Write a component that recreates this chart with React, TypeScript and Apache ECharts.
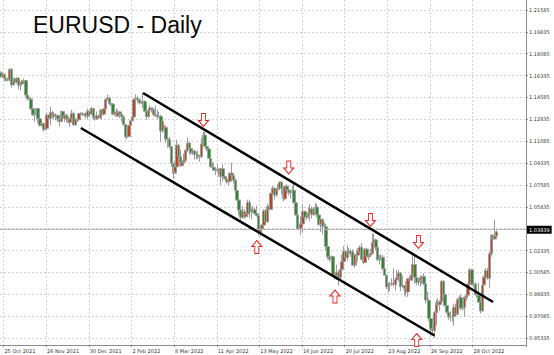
import React, { useEffect, useRef } from "react";
import * as echarts from "echarts";

// OHLC rows: [open, close, low, high] in 1/10000 units
const oct2021 = [
  [11655, 11623, 11618, 11668], [11623, 11644, 11620, 11665], [11644, 11608, 11590, 11650],
  [11608, 11597, 11586, 11625], [11597, 11604, 11585, 11620], [11604, 11683, 11590, 11692],
  [11683, 11558, 11535, 11692],
];
const nov2021 = [
  [11558, 11607, 11555, 11616], [11607, 11580, 11573, 11614], [11580, 11614, 11570, 11617],
  [11614, 11556, 11524, 11618], [11556, 11567, 11513, 11576], [11567, 11587, 11557, 11600],
  [11587, 11594, 11564, 11610], [11594, 11478, 11463, 11600], [11478, 11446, 11434, 11483],
  [11446, 11445, 11432, 11464], [11445, 11368, 11358, 11464], [11368, 11320, 11310, 11386],
  [11320, 11319, 11264, 11330], [11319, 11370, 11313, 11375], [11370, 11288, 11250, 11374],
  [11288, 11235, 11226, 11296], [11235, 11250, 11226, 11265], [11250, 11200, 11186, 11258],
  [11200, 11211, 11197, 11229], [11211, 11318, 11205, 11336], [11318, 11291, 11258, 11320],
  [11291, 11338, 11236, 11383],
];
const dec2021 = [
  [11338, 11321, 11297, 11353], [11321, 11305, 11287, 11342], [11305, 11316, 11276, 11333],
  [11316, 11286, 11261, 11318], [11286, 11266, 11228, 11291], [11266, 11345, 11262, 11354],
  [11345, 11291, 11276, 11352], [11291, 11317, 11262, 11325], [11317, 11284, 11260, 11329],
  [11284, 11259, 11251, 11308], [11259, 11289, 11222, 11296], [11289, 11330, 11275, 11360],
  [11330, 11238, 11236, 11347], [11238, 11281, 11235, 11297], [11281, 11281, 11262, 11305],
  [11281, 11329, 11269, 11336], [11329, 11330, 11302, 11343], [11330, 11319, 11310, 11340],
  [11319, 11327, 11305, 11332], [11327, 11310, 11293, 11339], [11310, 11348, 11282, 11370],
  [11348, 11325, 11299, 11356], [11325, 11370, 11318, 11385],
];
const jan2022 = [
  [11370, 11296, 11284, 11375], [11296, 11287, 11273, 11322], [11287, 11312, 11281, 11346],
  [11312, 11296, 11285, 11318], [11296, 11359, 11290, 11366], [11359, 11325, 11285, 11364],
  [11325, 11366, 11313, 11374], [11366, 11442, 11357, 11449], [11442, 11455, 11432, 11482],
  [11455, 11411, 11398, 11463], [11411, 11406, 11389, 11421], [11406, 11325, 11316, 11415],
  [11325, 11343, 11314, 11360], [11343, 11311, 11302, 11369], [11311, 11343, 11301, 11363],
  [11343, 11325, 11293, 11348], [11325, 11304, 11265, 11329], [11304, 11242, 11235, 11319],
  [11242, 11142, 11136, 11245], [11142, 11146, 11121, 11164], [11146, 11235, 11142, 11239],
];
const feb2022 = [
  [11235, 11272, 11214, 11280], [11272, 11303, 11268, 11307], [11303, 11442, 11271, 11450],
  [11442, 11452, 11420, 11484], [11452, 11440, 11415, 11469], [11440, 11414, 11402, 11448],
  [11414, 11423, 11406, 11431], [11423, 11426, 11375, 11495], [11426, 11349, 11340, 11436],
  [11349, 11305, 11280, 11357], [11305, 11357, 11293, 11372], [11357, 11374, 11346, 11395],
  [11374, 11360, 11338, 11380], [11360, 11321, 11311, 11369], [11321, 11309, 11301, 11395],
  [11309, 11307, 11288, 11362], [11307, 11308, 11291, 11342], [11308, 11191, 11106, 11320],
  [11191, 11268, 11176, 11274], [11190, 11219, 11122, 11239],
];
const mar2022 = [
  [11219, 11127, 11094, 11234], [11127, 11121, 11057, 11138], [11121, 11064, 11050, 11142],
  [11064, 10932, 10902, 11071], [10932, 10853, 10805, 10933], [10853, 10903, 10870, 10945],
  [10903, 11077, 10900, 11121], [11077, 10985, 10975, 11090], [10985, 10912, 10902, 11042],
  [10912, 10941, 10911, 10982], [10941, 10955, 10937, 11009], [10955, 11037, 10948, 11043],
  [11037, 11094, 11018, 11137], [11094, 11051, 11007, 11097], [11051, 11015, 10998, 11070],
  [11015, 11031, 10998, 11041], [11031, 11005, 10961, 11039], [11005, 10998, 10963, 11025],
  [10998, 10984, 10964, 11034], [10984, 10985, 10944, 10997], [10985, 11087, 10973, 11137],
  [11087, 11158, 11075, 11185], [11158, 11067, 11061, 11183],
];
const apr2022 = [
  [11067, 11047, 11029, 11077], [11047, 10972, 10969, 11053], [10972, 10903, 10900, 10995],
  [10903, 10899, 10897, 10939], [10899, 10876, 10870, 10937], [10876, 10877, 10837, 10893],
  [10877, 10886, 10858, 10922], [10886, 10829, 10822, 10892], [10829, 10888, 10759, 10895],
  [10888, 10826, 10783, 10924], [10826, 10808, 10801, 10838], [10808, 10782, 10769, 10820],
  [10782, 10788, 10756, 10810], [10788, 10853, 10777, 10860], [10853, 10834, 10828, 10936],
  [10834, 10796, 10770, 10849], [10796, 10714, 10698, 10809], [10714, 10638, 10632, 10720],
  [10638, 10558, 10515, 10650], [10558, 10498, 10470, 10580], [10498, 10545, 10490, 10592],
];
const may2022 = [
  [10545, 10506, 10490, 10565], [10506, 10526, 10492, 10533], [10526, 10618, 10505, 10641],
  [10618, 10541, 10494, 10642], [10541, 10549, 10483, 10580], [10549, 10560, 10539, 10593],
  [10560, 10529, 10519, 10576], [10529, 10513, 10505, 10594], [10513, 10380, 10354, 10514],
  [10380, 10409, 10349, 10424], [10409, 10437, 10391, 10445], [10437, 10551, 10423, 10564],
  [10551, 10462, 10458, 10566], [10462, 10585, 10460, 10608], [10585, 10563, 10532, 10595],
  [10563, 10691, 10557, 10697], [10691, 10733, 10676, 10749], [10733, 10678, 10642, 10737],
  [10678, 10725, 10661, 10731], [10725, 10733, 10697, 10765], [10733, 10781, 10717, 10787],
  [10781, 10733, 10682, 10786],
];
const jun2022 = [
  [10733, 10648, 10628, 10739], [10648, 10749, 10637, 10752], [10749, 10719, 10693, 10764],
  [10719, 10696, 10675, 10737], [10696, 10705, 10653, 10710], [10705, 10716, 10673, 10749],
  [10716, 10616, 10612, 10774], [10616, 10518, 10514, 10635], [10518, 10408, 10398, 10520],
  [10408, 10414, 10397, 10450], [10414, 10446, 10358, 10506], [10446, 10547, 10381, 10601],
  [10547, 10498, 10448, 10552], [10498, 10512, 10478, 10546], [10512, 10534, 10490, 10582],
  [10534, 10567, 10466, 10605], [10567, 10523, 10490, 10588], [10523, 10554, 10509, 10573],
  [10554, 10582, 10549, 10615], [10582, 10518, 10500, 10606], [10518, 10443, 10431, 10535],
  [10443, 10484, 10383, 10486],
];
const jul2022 = [
  [10484, 10427, 10365, 10486], [10427, 10424, 10410, 10462], [10424, 10266, 10236, 10447],
  [10266, 10183, 10162, 10275], [10183, 10162, 10144, 10209], [10162, 10185, 10072, 10196],
  [10185, 10039, 10037, 10186], [10039, 10036, 10000, 10056], [10036, 10061, 9998, 10122],
  [10061, 10019, 9952, 10076], [10019, 10083, 10006, 10097], [10083, 10144, 10082, 10200],
  [10144, 10226, 10139, 10269], [10226, 10177, 10155, 10232], [10177, 10228, 10153, 10277],
  [10228, 10210, 10177, 10255], [10210, 10225, 10184, 10246], [10225, 10116, 10111, 10244],
  [10116, 10199, 10095, 10209], [10199, 10197, 10113, 10235], [10197, 10221, 10146, 10254],
];
const aug2022 = [
  [10221, 10259, 10199, 10274], [10259, 10163, 10161, 10294], [10163, 10138, 10123, 10200],
  [10138, 10245, 10137, 10254], [10245, 10183, 10141, 10254], [10183, 10196, 10158, 10222],
  [10196, 10211, 10180, 10248], [10211, 10298, 10200, 10368], [10298, 10319, 10278, 10368],
  [10319, 10259, 10235, 10330], [10259, 10160, 10153, 10267], [10160, 10169, 10122, 10199],
  [10169, 10180, 10154, 10203], [10180, 10089, 10077, 10200], [10089, 10036, 10035, 10097],
  [10036, 9943, 9926, 10043], [9943, 9966, 9900, 9973], [9966, 9968, 9911, 9984],
  [9968, 9971, 9948, 10012], [9971, 9961, 9948, 10090], [9961, 10001, 9914, 10011],
  [10001, 10017, 9993, 10080], [10017, 10054, 9988, 10079],
];
const sep2022 = [
  [10054, 9945, 9910, 10057], [9945, 9954, 9938, 10034], [9954, 9928, 9876, 9958],
  [9928, 9903, 9864, 9987], [9903, 10008, 9864, 10011], [10008, 9996, 9930, 10030],
  [9996, 10040, 9997, 10112], [10040, 10122, 10033, 10198], [10122, 10019, 9968, 10187],
  [10019, 9979, 9957, 10023], [9979, 9997, 9955, 10017], [9997, 10016, 9945, 10036],
  [10016, 10027, 9966, 10030], [10027, 9970, 9954, 10051], [9970, 9839, 9810, 9976],
  [9839, 9835, 9807, 9907], [9835, 9690, 9669, 9852], [9690, 9607, 9553, 9711],
  [9607, 9593, 9571, 9670], [9593, 9736, 9536, 9748], [9736, 9816, 9634, 9839],
  [9816, 9801, 9763, 9853],
];
const oct2022 = [
  [9801, 9825, 9751, 9837], [9825, 9986, 9818, 9999], [9986, 9883, 9874, 9998],
  [9883, 9793, 9786, 9898], [9793, 9740, 9728, 9799], [9740, 9703, 9680, 9760],
  [9703, 9706, 9669, 9749], [9706, 9706, 9666, 9724], [9706, 9780, 9632, 9808],
  [9780, 9723, 9713, 9809], [9723, 9841, 9734, 9852], [9841, 9857, 9825, 9874],
  [9857, 9773, 9759, 9878], [9773, 9779, 9750, 9845], [9779, 9861, 9705, 9868],
  [9861, 9877, 9829, 9901], [9877, 9965, 9851, 9975], [9965, 10079, 9964, 10093],
  [10079, 9965, 9954, 10088], [9965, 9966, 9937, 9980], [9966, 9883, 9875, 9979],
];
const nov2022 = [
  [9883, 9876, 9854, 9953], [9876, 9821, 9815, 9977], [9821, 9750, 9730, 9830],
  [9750, 9958, 9747, 9965], [9958, 10020, 9902, 10033], [10020, 10074, 9983, 10094],
  [10074, 10013, 10000, 10095], [10013, 10208, 9937, 10223], [10208, 10354, 10185, 10364],
  [10354, 10327, 10271, 10364], [10327, 10349, 10321, 10481], [10349, 10384, 10331, 10394],
];

const FIRST_DAY = "2021-10-21";
const EMPTY_BARS_RIGHT = 16;

const xTickLabels = [
  "25 Oct 2021", "26 Nov 2021", "30 Dec 2021", "2 Feb 2022", "8 Mar 2022", "11 Apr 2022",
  "13 May 2022", "16 Jun 2022", "20 Jul 2022", "23 Aug 2022", "26 Sep 2022", "28 Oct 2022",
];
const yGridValues = [
  0.95335, 0.97085, 0.98835, 1.00585, 1.02335, 1.04085, 1.05835, 1.07585,
  1.09335, 1.11085, 1.12835, 1.14585, 1.16335, 1.18085, 1.19835, 1.21585,
];
const yLabelValues = [
  0.95335, 0.97085, 0.98835, 1.00585, 1.02335, 1.05835, 1.07585,
  1.09335, 1.11085, 1.12835, 1.14585, 1.16335, 1.18085, 1.19835, 1.21585,
];
const currentPrice = 1.03839;

const channelUpper = [["10 Feb 2022", 1.1494], ["14 Nov 2022", 0.9822]];
const channelLower = [["23 Dec 2021", 1.1214], ["28 Sep 2022", 0.9554]];
const downArrows = [
  ["30 Mar 2022", 1.1278], ["6 Jun 2022", 1.0898], ["9 Aug 2022", 1.0478], ["15 Sep 2022", 1.0302],
];
const upArrows = [["11 May 2022", 1.0262], ["12 Jul 2022", 0.9866], ["14 Sep 2022", 0.9518]];

const MONTHS = ["Jan", "Feb", "Mar", "Apr", "May", "Jun", "Jul", "Aug", "Sep", "Oct", "Nov", "Dec"];

function weekdayLabels(startIso: string, count: number): string[] {
  const out: string[] = [];
  const d = new Date(startIso + "T00:00:00Z");
  while (out.length < count) {
    const wd = d.getUTCDay();
    if (wd !== 0 && wd !== 6) {
      out.push(`${d.getUTCDate()} ${MONTHS[d.getUTCMonth()]} ${d.getUTCFullYear()}`);
    }
    d.setUTCDate(d.getUTCDate() + 1);
  }
  return out;
}

const DOWN_ARROW = "path://M3,0L7,0L7,7L10,7L5,13L0,7L3,7Z";
const UP_ARROW = "path://M5,0L10,6L7,6L7,13L3,13L3,6L0,6Z";

export default function App() {
  const ref = useRef<HTMLDivElement>(null);

  useEffect(() => {
    if (!ref.current) return;
    const chart = echarts.init(ref.current, null, { renderer: "svg" });

    const rows = [
      ...oct2021, ...nov2021, ...dec2021, ...jan2022, ...feb2022, ...mar2022, ...apr2022,
      ...may2022, ...jun2022, ...jul2022, ...aug2022, ...sep2022, ...oct2022, ...nov2022,
    ];
    const ohlc = rows.map((r) => r.map((v) => v / 10000));
    const categories = weekdayLabels(FIRST_DAY, ohlc.length + EMPTY_BARS_RIGHT);
    const labelSet = new Set(xTickLabels);
    const showAt = (_i: number, v: string) => labelSet.has(v);

    const gridLine = { color: "#d2d2d2", type: [2, 2] as any, width: 1 };
    const axisFont = { fontSize: 5, fontFamily: "DejaVu Sans", color: "#333" };
    const channelStyle = { color: "#000", width: 2.5, type: "solid" as const };
    const arrowStyle = { color: "#ffffff", borderColor: "#e8231d", borderWidth: 1 };

    chart.setOption({
      animation: false,
      backgroundColor: "#ffffff",
      title: {
        text: "EURUSD - Daily",
        left: 28,
        top: 8,
        textStyle: { fontSize: 23, fontWeight: "normal", fontFamily: "Liberation Sans", color: "#0a0a0a" },
      },
      grid: { left: 0, right: 28, top: 0, bottom: 10 },
      xAxis: {
        type: "category",
        data: categories,
        boundaryGap: true,
        axisLine: { lineStyle: { color: "#8c8c8c" } },
        axisTick: { show: true, interval: showAt, length: 2, lineStyle: { color: "#8c8c8c" } },
        axisLabel: { interval: showAt, align: "left", margin: 3, ...axisFont },
        splitLine: { show: true, interval: showAt, lineStyle: gridLine },
      },
      yAxis: {
        type: "value",
        position: "right",
        min: 0.9478,
        max: 1.2238,
        axisLine: { show: true, lineStyle: { color: "#8c8c8c" } },
        axisTick: { show: true, length: 2, customValues: yGridValues, lineStyle: { color: "#8c8c8c" } },
        axisLabel: {
          customValues: yLabelValues,
          formatter: (v: number) => v.toFixed(5),
          margin: 3,
          ...axisFont,
        },
        splitLine: { show: true, lineStyle: gridLine },
      },
      series: [
        {
          type: "candlestick",
          data: ohlc,
          barWidth: 3,
          itemStyle: {
            color: "#b9461c",
            color0: "#2f8a2f",
            borderColor: "#9c9c9c",
            borderColor0: "#9c9c9c",
            borderWidth: 1,
          },
          markLine: {
            silent: true,
            symbol: ["none", "none"],
            animation: false,
            data: [
              {
                yAxis: currentPrice,
                lineStyle: { color: "#b8b8b8", type: "solid", width: 1 },
                label: {
                  show: true,
                  position: "end",
                  distance: 1,
                  formatter: currentPrice.toFixed(5),
                  backgroundColor: "#000",
                  color: "#fff",
                  fontSize: 5,
                  fontFamily: "DejaVu Sans",
                  padding: [2, 2, 1, 2],
                },
              },
              [
                { coord: channelUpper[0], lineStyle: channelStyle, label: { show: false } },
                { coord: channelUpper[1] },
              ],
              [
                { coord: channelLower[0], lineStyle: channelStyle, label: { show: false } },
                { coord: channelLower[1] },
              ],
            ],
          },
          markPoint: {
            silent: true,
            animation: false,
            label: { show: false },
            data: [
              ...downArrows.map((c) => ({
                coord: c,
                symbol: DOWN_ARROW,
                symbolSize: [10, 13],
                itemStyle: arrowStyle,
              })),
              ...upArrows.map((c) => ({
                coord: c,
                symbol: UP_ARROW,
                symbolSize: [10, 13],
                itemStyle: arrowStyle,
              })),
            ],
          },
        },
      ],
    });

    return () => chart.dispose();
  }, []);

  return (
    <div
      ref={ref}
      style={{ position: "absolute", left: 0, top: 0, width: 554, height: 355 }}
    />
  );
}
